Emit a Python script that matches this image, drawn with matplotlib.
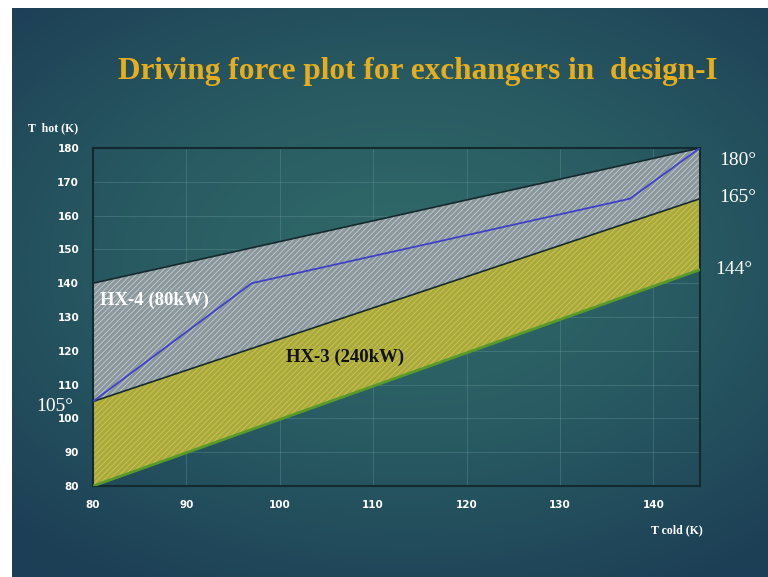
import numpy as np
import matplotlib
matplotlib.use("Agg")
import matplotlib.pyplot as plt
from matplotlib.colors import LinearSegmentedColormap

# Data
x_ends = [80, 145]
hx4_top = [140, 180]
hx4_bottom = [105, 165]      # also HX-3 top
hx3_bottom = [80, 144]
blue_x = [80, 97, 137.5, 145]
blue_y = [105, 140, 165, 180]
xticks = [80, 90, 100, 110, 120, 130, 140]
yticks = [80, 90, 100, 110, 120, 130, 140, 150, 160, 170, 180]

W, H = 768, 577
plt.rcParams["hatch.linewidth"] = 0.6
fig = plt.figure(figsize=(W / 100, H / 100), dpi=100, facecolor="white")

# background gradient
bg = fig.add_axes([12 / W, 0, (W - 12) / W, (H - 8) / H])
bg.set_axis_off()
yy, xx = np.mgrid[0:1:300j, 0:1:400j]
r = np.sqrt(((xx - 0.52) / 0.75) ** 2 + ((yy - 0.45) / 0.65) ** 2)
cmap = LinearSegmentedColormap.from_list("bgc", ["#316c6a", "#285a62", "#1d3f56"])
bg.imshow(np.clip(r, 0, 1), cmap=cmap, aspect="auto", extent=[0, 1, 0, 1], vmin=0, vmax=1)
bg.set_xlim(0, 1)
bg.set_ylim(0, 1)

fig.text(418 / W, 1 - 71 / H, "Driving force plot for exchangers in  design-I",
         color="#e6ae1c", fontsize=22.5, fontweight="bold", family="Liberation Serif",
         ha="center", va="center")

# main axes
x0, x1, y0, y1 = 93, 700, 148, 486
ax = fig.add_axes([x0 / W, 1 - y1 / H, (x1 - x0) / W, (y1 - y0) / H])
ax.patch.set_alpha(0)
ax.set_xlim(80, 145)
ax.set_ylim(80, 180)

ax.fill_between(x_ends, hx4_bottom, hx4_top, facecolor="#8a979c", edgecolor="#c4cccf",
                hatch="//////", linewidth=0, zorder=2)
ax.fill_between(x_ends, hx3_bottom, hx4_bottom, facecolor="#aaa93c", edgecolor="#cbc656",
                hatch="//////", linewidth=0, zorder=2)
ax.plot(x_ends, hx4_top, color="#142a2e", lw=1.2, zorder=3)
ax.plot(x_ends, hx4_bottom, color="#142a2e", lw=1.2, zorder=3)
ax.plot(x_ends, hx3_bottom, color="#5a9a2a", lw=2, zorder=3)
ax.plot(blue_x, blue_y, color="#4040c8", lw=1.3, zorder=4)

ax.set_xticks(xticks)
ax.set_yticks(yticks)
ax.grid(True, color="#6e9a9a", lw=0.6, alpha=0.4, zorder=1)
ax.tick_params(length=0, colors="white", labelsize=7.5, pad=10)
for lab in ax.get_xticklabels() + ax.get_yticklabels():
    lab.set_fontweight("bold")
    lab.set_family("Liberation Sans Narrow")
for s in ax.spines.values():
    s.set_color("#132a2e")
    s.set_linewidth(1.5)

ax.text(80.8, 135, "HX-4 (80kW)", color="white", fontsize=13.5, fontweight="bold",
        family="Liberation Serif", va="center", ha="left", zorder=5)
ax.text(100.7, 118.2, "HX-3 (240kW)", color="#111111", fontsize=13.5, fontweight="bold",
        family="Liberation Serif", va="center", ha="left", zorder=5)

ax.text(147.1, 176.4, "180°", color="white", fontsize=14, family="Liberation Serif",
        va="center", ha="left", clip_on=False)
ax.text(147.1, 165.3, "165°", color="white", fontsize=14, family="Liberation Serif",
        va="center", ha="left", clip_on=False)
ax.text(146.6, 144.2, "144°", color="white", fontsize=14, family="Liberation Serif",
        va="center", ha="left", clip_on=False)
ax.text(77.9, 103.4, "105°", color="white", fontsize=14, family="Liberation Serif",
        va="center", ha="right", clip_on=False)

fig.text(28 / W, 1 - 128 / H, "T  hot (K)", color="white", fontsize=8.5, fontweight="bold",
         family="Liberation Serif", va="center", ha="left")
fig.text(703 / W, 1 - 530 / H, "T cold (K)", color="white", fontsize=8.5, fontweight="bold",
         family="Liberation Serif", va="center", ha="right")

fig.savefig("out.png", dpi=100, facecolor="white")
